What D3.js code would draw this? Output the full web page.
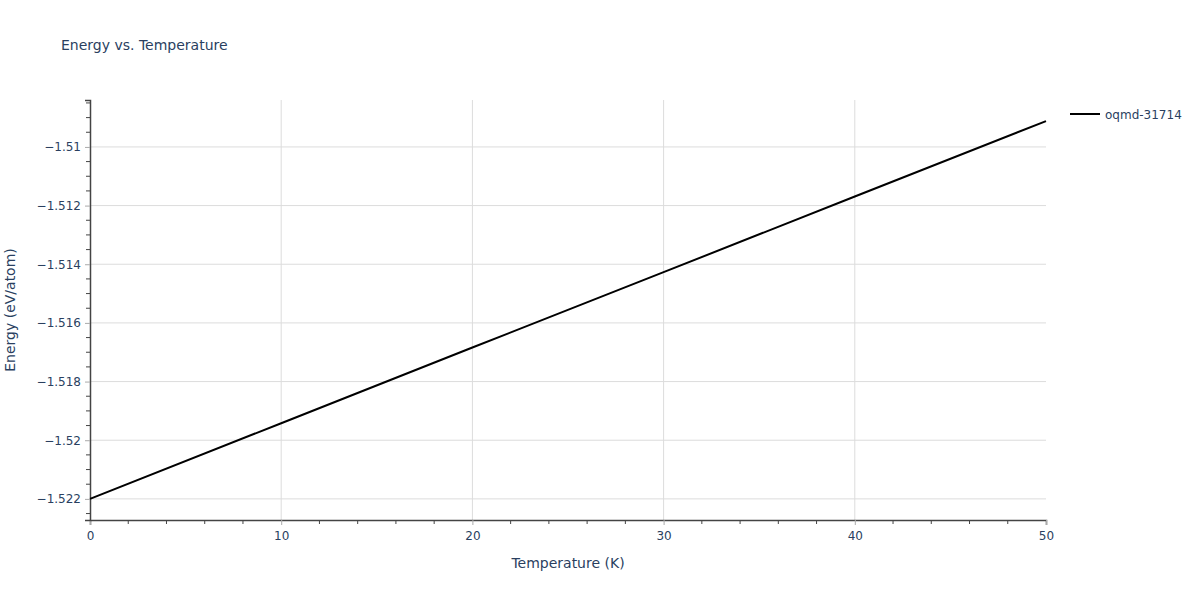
<!DOCTYPE html>
<html>
<head>
<meta charset="utf-8">
<script src="https://cdn.jsdelivr.net/npm/d3@7"></script>
<style>
  body { margin: 0; background: #fff; }
  text { font-family: "DejaVu Sans", Verdana, sans-serif; fill: #2a3f5f; }
</style>
</head>
<body>
<svg id="chart" width="1200" height="600"></svg>
<script>
// data
var temperature = [0, 10, 20, 30, 40, 50];
var energy = [-1.52200, -1.51942, -1.51684, -1.51427, -1.51169, -1.50912];
var seriesName = "oqmd-31714";
var xTicks = [0, 10, 20, 30, 40, 50];
var yTicks = [-1.522, -1.52, -1.518, -1.516, -1.514, -1.512, -1.51];

var margin = { top: 100, right: 154, bottom: 80, left: 90 },
  width = 1200 - margin.left - margin.right,
  height = 600 - margin.top - margin.bottom;

var svg = d3.select("#chart");
var g = svg.append("g").attr("transform", "translate(" + margin.left + "," + margin.top + ")");

var x = d3.scaleLinear().domain([0, 50]).range([0, width]);
var y = d3.scaleLinear().domain([-1.52272, -1.5084]).range([height, 0]);

var fmt = function (d) { return (+d.toFixed(3)).toString().replace("-", "\u2212"); };

// gridlines
g.selectAll(".xgrid").data(xTicks.slice(1, -1)).enter().append("line")
  .attr("x1", function (d) { return x(d); }).attr("x2", function (d) { return x(d); })
  .attr("y1", 0).attr("y2", height)
  .attr("stroke", "#dcdcdc").attr("stroke-width", 1);
g.selectAll(".ygrid").data(yTicks).enter().append("line")
  .attr("x1", 0).attr("x2", width)
  .attr("y1", function (d) { return y(d); }).attr("y2", function (d) { return y(d); })
  .attr("stroke", "#dcdcdc").attr("stroke-width", 1);

// minor ticks
var xMinor = d3.range(0, 50.01, 2).filter(function (d) { return d % 10 !== 0; });
g.selectAll(".xminor").data(xMinor).enter().append("line")
  .attr("x1", function (d) { return x(d); }).attr("x2", function (d) { return x(d); })
  .attr("y1", height).attr("y2", height + 4)
  .attr("stroke", "#444");
var yMinor = d3.range(-1.5225, -1.5084, 0.0005).filter(function (d) {
  return Math.abs(Math.round(d * 500) - d * 500) > 0.01;
});
g.selectAll(".yminor").data(yMinor).enter().append("line")
  .attr("x1", -4).attr("x2", 0)
  .attr("y1", function (d) { return y(d); }).attr("y2", function (d) { return y(d); })
  .attr("stroke", "#444");

// axes
var xAxis = g.append("g").attr("transform", "translate(0," + height + ")")
  .call(d3.axisBottom(x).tickValues(xTicks).tickSize(5).tickPadding(6));
var yAxis = g.append("g")
  .call(d3.axisLeft(y).tickValues(yTicks).tickFormat(fmt).tickSize(5).tickPadding(4));
[xAxis, yAxis].forEach(function (a) {
  a.select(".domain").attr("stroke", "#444").attr("stroke-width", 1.5);
  a.selectAll(".tick line").attr("stroke", "#aaa");
  a.selectAll(".tick text").attr("fill", "#2a3f5f").style("font-size", "12px")
    .style("font-family", "'DejaVu Sans', Verdana, sans-serif");
});

// line
var line = d3.line()
  .x(function (d, i) { return x(temperature[i]); })
  .y(function (d) { return y(d); });
g.append("path").datum(energy)
  .attr("d", line)
  .attr("fill", "none").attr("stroke", "#000").attr("stroke-width", 2);

// title and axis labels
svg.append("text").attr("x", 61).attr("y", 50).style("font-size", "14px").text("Energy vs. Temperature");
svg.append("text").attr("x", margin.left + width / 2).attr("y", 568)
  .attr("text-anchor", "middle").style("font-size", "14px").text("Temperature (K)");
svg.append("text").attr("transform", "translate(15," + (margin.top + height / 2) + ") rotate(-90)")
  .attr("text-anchor", "middle").style("font-size", "14px").text("Energy (eV/atom)");

// legend
var leg = svg.append("g").attr("transform", "translate(1070,114)");
leg.append("line").attr("x1", 0).attr("x2", 30).attr("stroke", "#000").attr("stroke-width", 2);
leg.append("text").attr("x", 35).attr("y", 4.5).style("font-size", "12px").text(seriesName);
</script>
</body>
</html>
